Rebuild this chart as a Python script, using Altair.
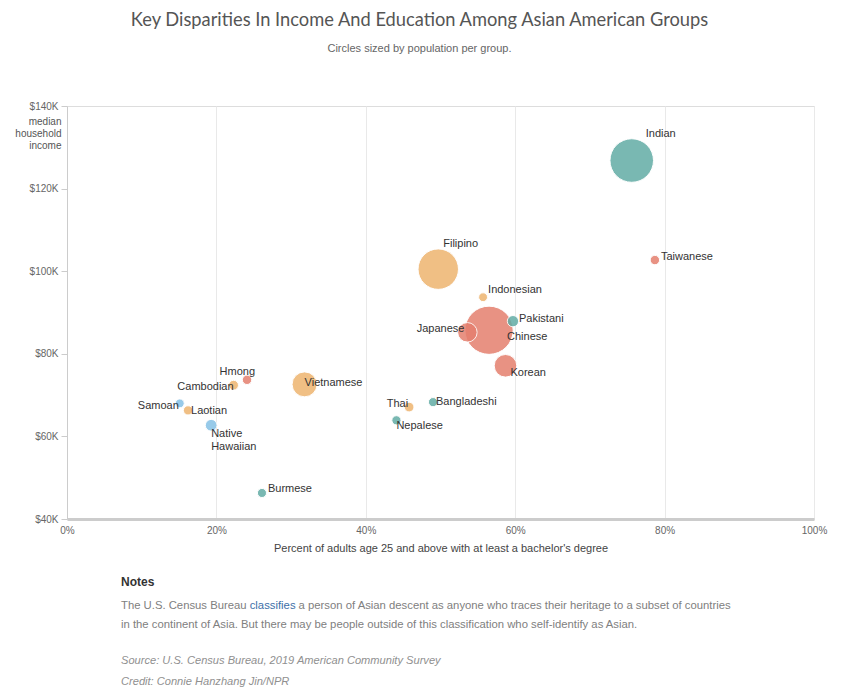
import altair as alt
import pandas as pd

# ---- data ----
groups = ["Chinese", "Indian", "Filipino", "Vietnamese", "Korean", "Japanese",
          "Native Hawaiian", "Pakistani", "Cambodian", "Hmong", "Taiwanese", "Thai",
          "Laotian", "Bangladeshi", "Nepalese", "Burmese", "Samoan", "Indonesian"]
bachelor_pct = [56.5, 75.6, 49.7, 31.8, 58.7, 53.6,
                19.3, 59.7, 22.3, 24.1, 78.7, 45.8,
                16.2, 49.0, 44.1, 26.1, 15.1, 55.7]
median_income = [85700, 126800, 100500, 72600, 77100, 85200,
                 62700, 87900, 72400, 73700, 102700, 67100,
                 66300, 68300, 63900, 46300, 68000, 93700]
population_m = [5.2, 4.6, 4.2, 2.2, 1.9, 1.5,
                0.5, 0.45, 0.25, 0.2, 0.2, 0.24,
                0.18, 0.17, 0.17, 0.16, 0.13, 0.13]
region = ["East Asian", "South Asian", "Southeast Asian", "Southeast Asian", "East Asian", "East Asian",
          "Pacific Islander", "South Asian", "Southeast Asian", "East Asian", "East Asian", "Southeast Asian",
          "Southeast Asian", "South Asian", "South Asian", "South Asian", "Pacific Islander", "Southeast Asian"]

region_names = ["East Asian", "South Asian", "Southeast Asian", "Pacific Islander"]
region_colors = ["#e57f6e", "#62aca5", "#eeb46f", "#86c1e6"]

df = pd.DataFrame({
    "group": groups,
    "pct": bachelor_pct,
    "income": median_income,
    "pop": population_m,
    "region": region,
})

FONT = "Liberation Sans"

x_enc = alt.X("pct:Q",
              scale=alt.Scale(domain=[0, 100], nice=False),
              axis=alt.Axis(values=[0, 20, 40, 60, 80, 100],
                            labelExpr="datum.value + '%'",
                            labelFlush=False,
                            title="Percent of adults age 25 and above with at least a bachelor's degree",
                            grid=True, gridColor="#e9e9e9", gridWidth=1,
                            ticks=False, domainColor="#cccccc", domainWidth=3,
                            labelFont=FONT, labelFontSize=10, labelColor="#666666",
                            labelPadding=6,
                            titleFont=FONT, titleFontSize=11, titleColor="#444444",
                            titleFontWeight="normal", titlePadding=7))
y_enc = alt.Y("income:Q",
              scale=alt.Scale(domain=[40000, 140000], nice=False, zero=False),
              axis=alt.Axis(values=[40000, 60000, 80000, 100000, 120000, 140000],
                            labelExpr="'$' + (datum.value / 1000) + 'K'",
                            grid=False, tickColor="#cccccc", tickSize=6,
                            domainColor="#cccccc",
                            labelFont=FONT, labelFontSize=10, labelColor="#666666",
                            labelPadding=3,
                            title=["median", "household", "income"],
                            titleAngle=0, titleAlign="right", titleBaseline="top",
                            titleX=-6, titleY=10, titleLineHeight=12,
                            titleFont=FONT, titleFontSize=10, titleColor="#555555",
                            titleFontWeight="normal"))

base = alt.Chart(df)

points = base.transform_calculate(
    sz="pow(datum.pop + 1.012, 2)"
).mark_circle(opacity=0.85, stroke="white", strokeWidth=1).encode(
    x=x_enc,
    y=y_enc,
    size=alt.Size("sz:Q", scale=alt.Scale(domain=[0, 38.59], range=[0, 2324]), legend=None),
    color=alt.Color("region:N", scale=alt.Scale(domain=region_names, range=region_colors), legend=None),
    order=alt.Order("pop:Q", sort="descending"),
)

# label placement: (align, dx, dy)
placement = {
    "Indian": ("left", 14, -26.5),
    "Taiwanese": ("left", 6, -3),
    "Filipino": ("left", 5, -25),
    "Indonesian": ("left", 5, -7),
    "Pakistani": ("left", 6, -2),
    "Chinese": ("left", 18, 7),
    "Japanese": ("right", -3, -3),
    "Korean": ("left", 5, 7),
    "Bangladeshi": ("left", 3, 0),
    "Thai": ("right", -1, -3),
    "Nepalese": ("left", 0, 6),
    "Vietnamese": ("left", 0, -1.5),
    "Hmong": ("right", 8, -7.5),
    "Cambodian": ("right", 0, 1.5),
    "Samoan": ("right", -1, 2.5),
    "Laotian": ("left", 3, 0.5),
    "Burmese": ("left", 6, -4),
}

layers = [points]
for name, (al, dx, dy) in placement.items():
    layers.append(
        base.transform_filter(alt.datum.group == name).mark_text(
            align=al, baseline="middle", dx=dx, dy=dy,
            font=FONT, fontSize=11, color="#333333"
        ).encode(x=x_enc, y=y_enc, text="group:N")
    )
# two-line label
layers.append(
    base.transform_filter(alt.datum.group == "Native Hawaiian").mark_text(
        align="left", baseline="top", dx=0, dy=3, lineBreak=" ", lineHeight=13,
        font=FONT, fontSize=11, color="#333333"
    ).encode(x=x_enc, y=y_enc, text="group:N")
)

one = pd.DataFrame({"k": [0]})


def note(text, x, y, size=11.3, **kw):
    return alt.Chart(one).mark_text(align="left", baseline="middle", font=FONT,
                                    fontSize=size, **kw).encode(
        x=alt.value(x), y=alt.value(y), text=alt.value(text))


layers += [
    note("Notes", 54, 476, size=12, fontWeight="bold", color="#333333"),
    note("The U.S. Census Bureau", 54, 500, color="#808080"),
    note("classifies", 182.7, 500, color="#3d6fa8"),
    note("a person of Asian descent as anyone who traces their heritage to a subset of countries",
         231.6, 500, color="#808080"),
    note("in the continent of Asia. But there may be people outside of this classification who self-identify as Asian.",
         54, 519, color="#808080"),
    note("Source: U.S. Census Bureau, 2019 American Community Survey", 54, 555,
         size=11.1, color="#909090", fontStyle="italic"),
    note("Credit: Connie Hanzhang Jin/NPR", 54, 576, size=11.1, color="#909090", fontStyle="italic"),
]

chart = alt.layer(*layers).properties(
    width=747,
    height=413,
    autosize=alt.AutoSizeParams(type="none"),
    padding={"left": 67, "top": 106, "right": 36, "bottom": 180},
    title=alt.Title(
        text="Key Disparities In Income And Education Among Asian American Groups",
        subtitle="Circles sized by population per group.",
        anchor="middle", dx=-21,
        font="Lato", fontSize=18.3, fontWeight="normal", color="#555555",
        subtitleFont=FONT, subtitleFontSize=11, subtitleColor="#666666",
        subtitlePadding=13, offset=46,
    ),
).configure_view(stroke=None).configure(background="white")

chart.save("out.html", embed_options={"renderer": "svg", "actions": False})
